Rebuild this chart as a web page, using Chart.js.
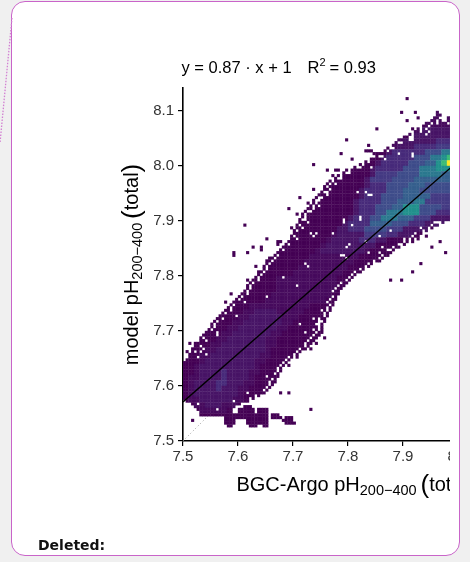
<!DOCTYPE html>
<html>
<head>
<meta charset="utf-8">
<title>model pH vs BGC-Argo pH</title>
<script src="https://cdn.jsdelivr.net/npm/chart.js@4.4.1/dist/chart.umd.min.js"></script>
<style>
  html, body { margin:0; padding:0; }
  body { width:470px; height:562px; background:#f0f0f0; position:relative; overflow:hidden; }
  #box { position:absolute; left:11px; top:1px; width:449px; height:555px; box-sizing:border-box;
         border:1.5px solid #c964c9; border-radius:14px; background:#fff; }
  #dots { position:absolute; left:0; top:0; }
  #clip { position:absolute; left:0; top:0; width:450px; height:562px; overflow:hidden; }
  #myChart { display:block; }
  #deleted { position:absolute; left:38px; top:537px; font:bold 14px "DejaVu Sans", Verdana, sans-serif; color:#111; }
</style>
</head>
<body>
<div id="box"></div>
<svg id="dots" width="20" height="160"><line x1="12" y1="18" x2="0" y2="143" stroke="#d27fd2" stroke-width="1.3" stroke-dasharray="1.5 1.5"/></svg>
<div id="clip"><canvas id="myChart" width="560" height="562"></canvas></div>
<div id="deleted">Deleted:</div>
<script>
// bins are 0.005 pH wide, row/col 0 starts at 7.5
var binSize = 0.005;
var binOrigin = 7.5;

// occupied bins: [row, firstCol, lastCol]
var runs = [
 [124,81,81],
 [119,79,79],[119,84,84],[119,92,92],
 [118,92,93],
 [117,85,85],[117,91,92],[117,96,97],
 [116,81,81],[116,90,99],
 [115,88,99],[114,87,99],
 [113,70,70],[113,83,83],[113,85,99],
 [112,84,99],[111,82,99],[110,80,99],
 [109,59,59],[109,78,99],
 [108,77,99],
 [107,67,67],[107,76,99],
 [106,74,99],
 [105,66,68],[105,73,99],
 [104,57,57],[104,69,99],
 [103,70,99],
 [102,61,61],[102,68,99],
 [101,66,99],
 [100,47,47],[100,64,99],
 [99,62,99],
 [98,52,52],[98,55,56],[98,59,99],
 [97,58,99],
 [96,54,54],[96,56,99],
 [95,55,99],[94,53,99],[93,52,99],[92,51,99],
 [91,47,47],[91,51,99],
 [90,50,99],[89,49,99],
 [88,42,42],[88,48,99],
 [87,47,99],
 [86,45,45],[86,47,99],
 [85,46,99],
 [84,38,38],[84,45,99],
 [83,44,99],
 [82,41,41],[82,43,99],
 [81,43,99],[80,42,99],[79,42,94],
 [78,22,22],[78,41,92],
 [77,39,39],[77,41,90],
 [76,40,88],[75,40,86],
 [74,39,85],[74,88,88],
 [73,30,30],[73,39,83],[73,85,85],
 [72,34,35],[72,38,81],[72,83,83],[72,93,93],
 [71,34,34],[71,37,80],
 [70,25,25],[70,28,28],[70,36,78],[70,90,90],
 [69,28,28],[69,35,76],
 [68,18,18],[68,23,23],[68,34,75],[68,95,95],
 [67,18,18],[67,33,74],
 [66,31,72],[65,30,71],
 [64,30,68],[64,86,86],
 [63,26,26],[63,29,67],
 [62,29,65],
 [61,27,64],[61,83,83],
 [60,27,62],[59,26,61],
 [58,23,23],[58,25,60],[58,75,75],[58,79,79],
 [57,24,59],[56,23,58],[55,23,57],[54,22,56],
 [53,17,17],[53,21,56],
 [52,20,55],[51,19,55],
 [50,15,15],[50,18,54],
 [49,17,54],[48,16,53],[47,15,53],[46,14,52],[45,13,52],
 [44,12,51],[43,11,51],[42,10,50],[41,10,50],[40,9,50],[39,8,50],[38,7,49],
 [37,6,48],[37,51,51],
 [36,6,47],
 [35,2,2],[35,4,46],[35,48,48],
 [34,4,45],
 [33,3,44],[33,46,46],
 [32,1,1],[32,3,42],
 [31,2,41],
 [30,2,39],[30,41,41],
 [29,1,38],[28,0,37],
 [27,0,36],[27,38,38],
 [26,0,35],[25,0,35],[24,0,34],[23,0,34],[22,0,33],[21,0,33],[20,0,32],[19,0,31],[18,0,30],
 [17,0,29],[17,35,35],[17,38,38],
 [16,0,27],[15,0,25],[14,1,23],[13,3,20],
 [12,4,18],[12,22,24],
 [11,5,17],[11,20,25],[11,27,30],[11,46,46],
 [10,6,17],[10,20,25],[10,27,30],
 [9,6,30],[9,32,34],
 [8,15,30],[8,32,35],[8,37,39],
 [7,3,3],[7,15,18],[7,23,30],[7,36,39],
 [6,15,18],[6,23,30],[6,37,40],
 [5,16,17],[5,24,26],[5,29,30]
];

// empty bins inside the runs: [row, col]
var gaps = [
 [56,41],[59,36],[52,30],[50,22],[45,19],[38,12],[34,6],[32,6],[30,5],[44,47],[43,49],[42,48],[42,42],[39,44],
 [17,23],[11,12],[13,5],[14,18],[33,7],[31,8],[32,4],[39,12],[23,30],
 [104,83],[102,73],[99,68],[89,67],[89,68],[90,66],[90,63],[81,64],[80,64],[79,58],[80,58],[78,61],[75,54],
 [71,60],[70,59],[67,57],[67,58],[66,59],[75,46],[74,47],[75,48],[64,44],[63,45],[79,91],[79,92],[77,86],
 [76,75],[74,71],[72,66],[68,71],[68,67],[70,72],
 [115,90],[115,92],[114,89],[113,88],[112,86],[116,94],[116,95],[115,96],[109,82],[109,83],[104,78],[106,76],
 [103,71],[98,60],[99,63],[94,54],[93,55],[90,51],[88,50],[89,52],[84,47],[85,49],[80,43],[79,45],[81,44],
 [110,82],[110,83],[113,86],[111,88],[112,89],[116,92],[103,83],
 [48,52],[47,50],[46,51],[41,49],[36,45],[29,37],[26,34],[21,31],[19,30],[40,47],
 [57,25],[55,24],[53,23],[49,18],[47,17],[44,14],[41,11],[60,28],[62,30],[65,32],
 [73,82],[71,79],[69,75],[66,71],[62,64],[60,61],
 [100,65],[97,59],[95,56],[92,52],[87,48],[83,45],[86,48],[105,74],[108,78],[111,83],
 [108,79],[106,75],[103,72],[101,67],[99,64],[97,60],[96,57],[95,57],[93,53],[91,53],[90,52],[88,49],
 [87,49],[85,47],[83,46],[82,44],[80,44],[78,42],[77,43],[76,41],[74,40],[73,41],[71,38],[69,36],[67,34],
 [66,33],[64,31],[63,30],[61,29],[59,27],[58,27],[56,24],[54,23],[52,21],[51,20],[48,17],[46,15],[43,12],
 [42,11],[40,10],[37,7],[36,8],
 [79,93],[78,90],[77,89],[76,87],[75,84],[74,83],[73,80],[72,80],[71,78],[70,76],[69,74],[67,72],[65,69],
 [64,67],[63,66],[61,62],[59,60],[58,59],[57,57],[56,56],[55,55],[54,54],[52,54],[51,53],[50,52],[49,53],
 [47,52],[45,51],[44,49],[43,50],[42,49],[40,49],[39,48],[38,47],[37,46],[35,44],[34,44],[33,42],[32,41],
 [31,40],[30,38],[28,36],[27,35],[25,34],[24,33],[22,32],[20,31],[18,29],[16,26],[15,24]
];

// counts shade on a 0.01 grid (top row = coarse row 63)
var shadeTop = 63;
var shade = [
 "0000000000 0000000000 0000000000 0000000000 0000011111",
 "0000000000 0000000000 0000000000 0000000000 0000011111",
 "0000000000 0000000000 0000000000 0000000000 0000011111",
 "0000000000 0000000000 0000000000 0000000000 0000011111",
 "0000000000 0000000000 0000000000 0000000000 0000011111",
 "0000000000 0000000000 0000000000 0000000000 0000011111",
 "0000000000 0000000000 0000000000 0000000000 0000111111",
 "0000000000 0000000000 0000000000 0000000000 0012222222",
 "0000000000 0000000000 0000000000 0000000000 0122222222",
 "0000000000 0000000000 0000000000 0000000011 2222223333",
 "0000000000 0000000000 0000000000 0000000012 2233334444",
 "0000000000 0000000000 0000000000 0000000233 3333555777",
 "0000000000 0000000000 0000000000 0000002333 3355577898",
 "0000000000 0000000000 0000000000 0000023333 35556689b9",
 "0000000000 0000000000 0000000000 0000233333 5557778888",
 "0000000000 0000000000 0000000000 0000244445 5557777666",
 "0000000000 0000000000 0000000000 0002444455 5566666666",
 "0000000000 0000000000 0000000000 0002333555 5666555555",
 "0000000000 0000000000 0000000000 0023333555 6665555555",
 "0000000000 0000000000 0000000000 0023335555 6666644444",
 "0000000000 0000000000 0000000000 0233335556 6677444444",
 "0000000000 0000000000 0000000000 0233355566 8885555444",
 "0000000000 0000000000 0000000000 0233355777 8885553333",
 "0000000000 0000000000 0000000000 2333557776 6644422222",
 "0000000000 0000000000 0000000002 3333666655 5333222222",
 "0000000000 0000000000 0000000022 3335555444 2222200000",
 "0000000000 0000000000 0000000122 2224444332 2200000000",
 "0000000000 0000000000 0000001222 2233322000",
 "0000000000 0000000000 0000012222 2222200000",
 "0000000000 0000000000 0000122222 2221000000",
 "0000000000 0000000000 0001111111 1100000000",
 "0000000000 0000000000 0011111111 1000000000",
 "0000000000 0000000000 0111111111",
 "0000000000 0000000000 1111111110",
 "0000000000 0000000111 1111111100",
 "0000000000 0000000111 1111111100",
 "0000000000 0000000111 1111111100",
 "0000000000 0000001111 1111111000",
 "0000000000 0000011111 1111110000",
 "0000000000 0011111111 1110000000",
 "0000000000 0112222111 1100000000",
 "0000000000 1122222211 1000000000",
 "0000000001 1222222211",
 "0000000011 2222222110",
 "0000000112 2222221100",
 "0000001122 2222211000",
 "0000011222 2222211000",
 "0000112222 2222210000",
 "0001122222 2222110000",
 "0001222222 2221100000",
 "0012222222 2221000000",
 "0012222322 2211000000",
 "0112222322 2210000000",
 "0122223322 2110000000",
 "0122223222 1100000000",
 "0122222222 1000000000",
 "0112222221 1000000000",
 "0011222111",
 "0001111100"
];
var palette = {'0':'#440154','1':'#460a5d','2':'#471466','3':'#472a7a','4':'#443a83','5':'#3e4c8a',
  '6':'#355f8d','7':'#2a788e','8':'#21918c','9':'#3bbb75','a':'#7ad151','b':'#fde725'};

// fit line and 1:1 line
var fitX = [7.5, 8.14];
var fitY = [7.571, 8.131];
var diagX = [7.5, 8.14];
var diagY = [7.5, 8.14];

var xTickVals = [7.5, 7.6, 7.7, 7.8, 7.9, 8.0, 8.1];
var xTickLabels = ['7.5','7.6','7.7','7.8','7.9','8.0','8.1'];
var yTickVals = [7.5, 7.6, 7.7, 7.8, 7.9, 8.0, 8.1];
var yTickLabels = ['7.5','7.6','7.7','7.8','7.9','8.0','8.1'];

var eqLeft = 'y = 0.87 \u00b7 x + 1';
var eqR = 'R';
var eqSup = '2';
var eqRight = '= 0.93';
var xTitle = ['BGC-Argo pH', '200\u2212400', 'total'];
var yTitle = ['model pH', '200\u2212400', 'total'];

// build bins
var cells = {};
runs.forEach(function(s){
	for (var c = s[1]; c <= s[2]; c++) cells[s[0] + ',' + c] = 1;
});
gaps.forEach(function(g){ delete cells[g[0] + ',' + g[1]]; });

var cellPts = [], cellColors = [];
Object.keys(cells).forEach(function(k){
	var p = k.split(','), r = +p[0], c = +p[1];
	var line = (shade[shadeTop - Math.floor(r/2)] || '').replace(/ /g, '');
	var lv = line.charAt(Math.floor(c/2)) || '0';
	cellPts.push({x: binOrigin + binSize*(c + 0.5), y: binOrigin + binSize*(r + 0.5)});
	cellColors.push(palette[lv]);
});

function toPts(xs, ys){ return xs.map(function(v, i){ return {x: v, y: ys[i]}; }); }

var FONT = '"Liberation Sans", Arial, sans-serif';

function drawMathLabel(c, parts, cx, cy, angle){
	var pieces = [
		[parts[0], 20, 0],
		[parts[1], 14.5, 3.5],
		[' ', 14, 0],
		['(', 26, 2],
		[parts[2], 20, 0],
		[')', 26, 2]
	];
	var total = 0;
	pieces.forEach(function(p){ c.font = p[1] + 'px ' + FONT; p.push(c.measureText(p[0]).width); total += p[3]; });
	c.save();
	c.translate(cx, cy);
	c.rotate(angle);
	var x = -total/2;
	pieces.forEach(function(p){
		c.font = p[1] + 'px ' + FONT;
		c.fillText(p[0], x, p[2]);
		x += p[3];
	});
	c.restore();
}

var textPlugin = {
	id: 'textPlugin',
	afterDraw: function(chart){
		var c = chart.ctx, a = chart.chartArea;
		c.save();
		c.fillStyle = '#000';
		c.textAlign = 'left';
		c.textBaseline = 'alphabetic';
		var x = a.left - 1.5, y = 72.5;
		c.font = '16.5px ' + FONT;
		c.fillText(eqLeft, x, y); x += c.measureText(eqLeft).width + 16;
		c.fillText(eqR, x, y); x += c.measureText(eqR).width;
		c.font = '11px ' + FONT;
		c.fillText(eqSup, x, y - 7); x += c.measureText(eqSup).width + 4;
		c.font = '16.5px ' + FONT;
		c.fillText(eqRight, x, y);

		drawMathLabel(c, xTitle, (a.left + a.right)/2 - 3, 491, 0);
		drawMathLabel(c, yTitle, 138, (a.top + a.bottom)/2, -Math.PI/2);
		c.restore();
	}
};

var ctx = document.getElementById('myChart');
var chart = new Chart(ctx, {
	type: 'scatter',
	data: {
		datasets: [
			{type:'line', data: toPts(fitX, fitY), borderColor:'#000', borderWidth:1.4, pointRadius:0, fill:false, order:0},
			{data: cellPts, pointStyle:'rect', pointRadius:2.2, pointHoverRadius:2.2, pointBorderWidth:0,
			 pointBackgroundColor: cellColors, order:1},
			{type:'line', data: toPts(diagX, diagY), borderColor:'#9a9a9a', borderWidth:1, borderDash:[1,2.5],
			 pointRadius:0, fill:false, order:2}
		]
	},
	options: {
		responsive: false,
		animation: false,
		events: [],
		layout: { padding: { top: 88, right: 25, left: 0, bottom: 0 } },
		plugins: { legend: { display:false }, tooltip: { enabled:false } },
		scales: {
			x: {
				type: 'linear', min: 7.5, max: 8.14,
				afterBuildTicks: function(s){ s.ticks = xTickVals.map(function(v){ return {value:v}; }); },
				afterFit: function(s){ s.height = 121; },
				ticks: { callback: function(v, i){ return xTickLabels[i]; }, color:'#333',
					font:{ family:'Liberation Sans', size:15 }, padding:2, maxRotation:0, autoSkip:false },
				grid: { drawOnChartArea:false, drawTicks:true, tickLength:5, color:'#000', lineWidth:1.2 },
				border: { display:true, color:'#000', width:1.6 }
			},
			y: {
				type: 'linear', min: 7.5, max: 8.1418,
				afterBuildTicks: function(s){ s.ticks = yTickVals.map(function(v){ return {value:v}; }); },
				afterFit: function(s){ s.width = 183; },
				ticks: { callback: function(v, i){ return yTickLabels[i]; }, color:'#333',
					font:{ family:'Liberation Sans', size:15 }, padding:4, autoSkip:false },
				grid: { drawOnChartArea:false, drawTicks:true, tickLength:5, color:'#000', lineWidth:1.2 },
				border: { display:true, color:'#000', width:1.6 }
			}
		}
	},
	plugins: [textPlugin]
});
</script>
</body>
</html>
